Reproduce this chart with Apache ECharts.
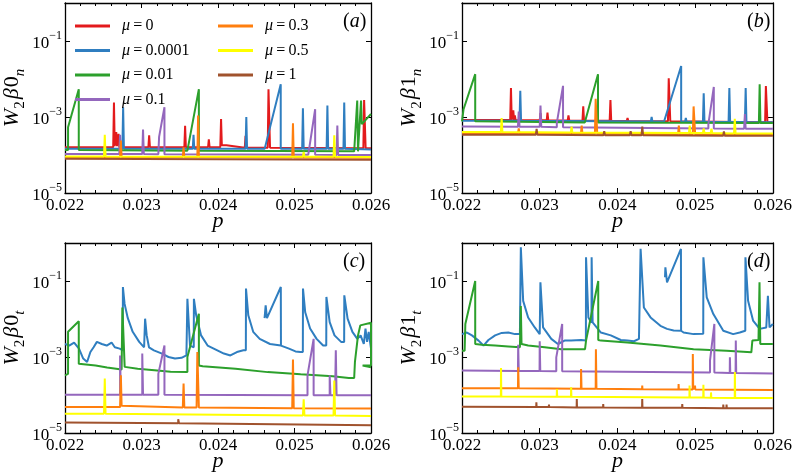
<!DOCTYPE html>
<html><head><meta charset="utf-8">
<script src="https://cdn.jsdelivr.net/npm/echarts@6/dist/echarts.min.js"></script>
<style>html,body{margin:0;padding:0;background:#fff}#c{width:795px;height:474px}</style>
</head><body><div id="c"></div>
<script>
const MU_NAMES = ['0', '0.0001', '0.01', '0.1', '0.3', '0.5', '1'];
const COLORS = ['#e31a1c', '#2f7ec0', '#2ca02c', '#9467bd', '#ff7f0e', '#ffff00', '#a0522d'];
const P_RANGE = [0.022, 0.026];
const P_STEP = 0.001;
const W_RANGE = [1e-5, 1];
const Y_LABEL_EXPONENTS = [-5, -3, -1];
const PANEL_TAGS = ['a', 'b', 'c', 'd'];
const PANEL_YNAMES = [['0', 'n'], ['1', 'n'], ['0', 't'], ['1', 't']];

// ---------- panel (a): W2 beta0_n ----------
const A0 = [[0.022,1.6e-4],[0.02263,1.6e-4],[0.02264,2.4e-3],[0.02265,1.7e-4],[0.02267,4.0e-4],[0.02268,1.7e-4],[0.0227,3.6e-4],[0.02271,1.6e-4],
 [0.02309,1.6e-4],[0.0231,3.3e-4],[0.02311,1.6e-4],[0.02356,1.6e-4],[0.02357,5.9e-4],[0.02358,1.6e-4],
 [0.02387,1.6e-4],[0.02388,2.6e-4],[0.02389,1.6e-4],[0.02403,1.6e-4],[0.02404,8.9e-4],[0.02405,1.8e-4],[0.02411,1.8e-4],[0.02412,1.6e-4],
 [0.02435,1.55e-4],[0.02436,3.2e-4],[0.02437,1.55e-4],[0.02465,1.55e-4],[0.02466,5.4e-3],[0.02468,1.55e-4],
 [0.0259,1.5e-4],[0.02591,2.8e-3],[0.02593,1.5e-4],[0.026,1.5e-4]];
const A1 = [[0.022,1.45e-4],[0.02275,1.45e-4],[0.02276,1.8e-3],[0.02277,1.45e-4],[0.02367,1.45e-4],[0.02368,3.4e-4],[0.02369,1.45e-4],
 [0.02436,1.45e-4],[0.02437,1.0e-3],[0.02438,1.45e-4],[0.02461,1.45e-4],[0.02482,7.3e-3],[0.02482,1.45e-4],
 [0.0251,1.45e-4],[0.02511,1.7e-3],[0.02512,1.45e-4],[0.02542,1.45e-4],[0.02543,2.0e-3],[0.02544,1.45e-4],
 [0.02564,1.45e-4],[0.02565,2.4e-3],[0.02566,1.45e-4],[0.026,1.4e-4]];
const A2 = [[0.022,1.35e-4],[0.02204,1.35e-4],[0.02204,5.4e-4],[0.02218,5.4e-3],[0.02218,1.35e-4],
 [0.0236,1.3e-4],[0.02375,5.4e-3],[0.02375,1.3e-4],
 [0.02578,1.25e-4],[0.02582,2.7e-3],[0.02583,1.25e-4],[0.02585,6.0e-4],[0.02587,2.7e-3],[0.02588,6.5e-4],[0.026,1.2e-3]];
const A3 = [[0.022,1.07e-4],[0.02271,1.07e-4],[0.02272,3.4e-4],[0.02273,1.07e-4],[0.02301,1.07e-4],[0.02302,4.7e-4],[0.02303,1.07e-4],
 [0.02322,1.05e-4],[0.02323,3.0e-4],[0.0233,1.8e-3],[0.0233,1.05e-4],
 [0.02518,1.02e-4],[0.02527,1.6e-3],[0.02527,1.02e-4],[0.02555,1.0e-4],[0.02556,6.0e-4],[0.02557,1.0e-4],[0.026,1.0e-4]];
const A4 = [[0.022,8.8e-5],[0.02272,8.8e-5],[0.02273,2.4e-4],[0.02274,8.8e-5],[0.02354,8.8e-5],[0.02355,1.6e-4],[0.02356,8.8e-5],
 [0.02373,8.8e-5],[0.02374,1.1e-3],[0.02375,8.8e-5],[0.02497,8.6e-5],[0.02498,6.8e-4],[0.02499,8.6e-5],[0.026,8.5e-5]];
const A5 = [[0.022,9.2e-5],[0.02251,9.2e-5],[0.02252,3.4e-4],[0.02253,9.2e-5],[0.02511,9.0e-5],[0.02512,1.2e-4],[0.02513,9.0e-5],
 [0.02551,9.0e-5],[0.02552,3.3e-4],[0.02553,9.0e-5],[0.026,8.9e-5]];
const A6 = [[0.022,8.0e-5],[0.026,7.5e-5]];

// ---------- panel (b): W2 beta1_n ----------
const B0 = [[0.022,8.4e-4],[0.02262,8.3e-4],[0.02263,5.8e-3],[0.02264,8.3e-4],[0.02266,1.5e-3],[0.02267,8.3e-4],[0.02268,1.1e-3],[0.02269,8.3e-4],
 [0.023,8.2e-4],[0.02301,1.26e-3],[0.02302,8.2e-4],[0.02309,8.2e-4],[0.0231,1.3e-3],[0.02311,8.2e-4],
 [0.02336,8.1e-4],[0.02337,1.1e-3],[0.02338,8.1e-4],[0.02355,8.0e-4],[0.02356,1.9e-3],[0.02357,8.0e-4],
 [0.0239,8.0e-4],[0.02391,2.8e-3],[0.02392,8.0e-4],[0.02412,7.9e-4],[0.02413,9.4e-4],[0.02414,7.9e-4],
 [0.02465,7.7e-4],[0.02466,1.05e-2],[0.02468,7.7e-4],[0.0259,7.3e-4],[0.02591,6.5e-3],[0.02593,7.3e-4],[0.026,7.3e-4]];
const B1 = [[0.022,8.0e-4],[0.02274,8.0e-4],[0.02275,4.9e-3],[0.02276,8.0e-4],[0.02443,7.6e-4],[0.02444,1.0e-3],[0.02445,7.6e-4],
 [0.0246,7.6e-4],[0.02482,2.2e-2],[0.02482,7.6e-4],[0.02487,7.5e-4],[0.02488,9.4e-4],[0.02489,7.5e-4],
 [0.0251,7.5e-4],[0.02511,4.2e-3],[0.02512,7.5e-4],[0.02543,7.4e-4],[0.02544,5.8e-3],[0.02545,7.4e-4],
 [0.02564,7.4e-4],[0.02565,5.8e-3],[0.02566,7.4e-4],[0.026,7.3e-4]];
const B2 = [[0.022,7.7e-4],[0.02202,7.7e-4],[0.02202,1.6e-3],[0.02217,1.34e-2],[0.02217,7.7e-4],
 [0.02358,7.2e-4],[0.02375,1.34e-2],[0.02375,7.2e-4],[0.02582,6.9e-4],[0.02583,7.3e-3],[0.02584,6.9e-4],[0.026,7.0e-4]];
const B3 = [[0.022,5.6e-4],[0.02272,5.5e-4],[0.02273,1.4e-3],[0.02274,5.5e-4],[0.023,5.5e-4],[0.02301,2.0e-3],[0.02302,5.5e-4],
 [0.02322,5.4e-4],[0.02322,7.0e-4],[0.0233,6.6e-3],[0.0233,5.4e-4],[0.02517,5.0e-4],[0.02517,6.5e-4],[0.02524,6.2e-3],[0.02524,5.0e-4],
 [0.02563,4.9e-4],[0.02564,1.2e-3],[0.02565,4.9e-4],[0.026,4.9e-4]];
const B4 = [[0.022,3.7e-4],[0.02272,3.7e-4],[0.02273,5.0e-4],[0.02274,3.7e-4],[0.02353,3.6e-4],[0.02354,5.9e-4],[0.02355,3.6e-4],
 [0.02371,3.6e-4],[0.02372,3.0e-3],[0.02374,3.6e-4],[0.02478,3.5e-4],[0.02479,5.9e-4],[0.0248,3.5e-4],
 [0.02497,3.5e-4],[0.02498,1.9e-3],[0.025,3.5e-4],[0.026,3.4e-4]];
const B5 = [[0.022,4.0e-4],[0.0225,4.0e-4],[0.02251,9.4e-4],[0.02252,4.0e-4],[0.0234,3.9e-4],[0.02341,5.6e-4],[0.02342,3.9e-4],
 [0.02492,3.8e-4],[0.02493,5.9e-4],[0.02494,3.8e-4],[0.0251,3.8e-4],[0.02511,5.0e-4],[0.02512,3.8e-4],
 [0.0252,3.8e-4],[0.02521,4.9e-4],[0.02522,3.8e-4],[0.0255,3.7e-4],[0.02551,8.9e-4],[0.02552,3.7e-4],[0.026,3.7e-4]];
const B6 = [[0.022,3.4e-4],[0.02295,3.4e-4],[0.02296,4.9e-4],[0.02297,3.4e-4],[0.02382,3.3e-4],[0.02383,4.2e-4],[0.02384,3.3e-4],
 [0.02416,3.3e-4],[0.02417,4.2e-4],[0.02418,3.3e-4],[0.02431,3.3e-4],[0.02432,5.6e-4],[0.02433,3.3e-4],
 [0.02536,3.2e-4],[0.02537,4.2e-4],[0.02538,3.2e-4],[0.026,3.2e-4]];

// ---------- panel (c): W2 beta0_t ----------
const C0 = [];
const C1 = [[0.022,2.2e-3],[0.022055,2.0e-3],[0.022119,2.4e-3],[0.022183,1.66e-3],[0.022238,9.1e-4],[0.022289,7.4e-4],[0.022332,1.35e-3],
 [0.022374,1.8e-3],[0.022417,2.5e-3],[0.022481,2.2e-3],[0.022545,2.0e-3],[0.022609,2.4e-3],[0.022651,1.8e-3],[0.022715,1.66e-3],
 [0.022755,1.5e-3],[0.022757,6.95e-2],[0.022779,2.5e-2],[0.022821,1.05e-2],[0.022885,4.6e-3],[0.02297,2.5e-3],[0.023034,1.8e-3],
 [0.023047,1.02e-2],[0.023068,3.7e-3],[0.023098,1.8e-3],[0.023162,1.5e-3],[0.023268,1.23e-3],[0.023353,1.0e-3],[0.023438,9.1e-4],
 [0.023523,9.5e-4],[0.023587,1.1e-3],[0.023598,1.1e-3],[0.0236,3.4e-2],[0.023634,2.0e-3],[0.023683,1.8e-3],[0.023685,3.4e-2],
 [0.023715,1.25e-2],[0.023779,3.7e-3],[0.023864,2.0e-3],[0.023991,1.5e-3],[0.024077,1.23e-3],[0.024162,1.1e-3],[0.024247,1.35e-3],
 [0.024332,1.5e-3],[0.024364,1.5e-3],[0.024366,6.3e-2],[0.024396,1.25e-2],[0.02446,4.6e-3],[0.024545,3.0e-3],[0.02468,2.2e-3],
 [0.024821,2.0e-3],[0.02461,'-'],[0.024609,1.05e-2],[0.024623,2.3e-2],[0.02464,1.05e-2],[0.024821,6.95e-2],[0.024823,2.0e-3],
 [0.024928,1.66e-3],[0.025013,1.4e-3],[0.025077,1.35e-3],[0.025109,1.35e-3],[0.025111,6.3e-2],[0.02514,1.5e-2],[0.025204,5.6e-3],
 [0.025289,3.0e-3],[0.025374,2.0e-3],[0.025415,2.0e-3],[0.025417,3.8e-2],[0.02546,8.3e-3],[0.025523,3.7e-3],[0.025609,2.5e-3],
 [0.025649,2.5e-3],[0.025651,4.2e-2],[0.025694,1.02e-2],[0.025757,4.6e-3],[0.025821,3.0e-3],[0.025864,3.7e-3],[0.025906,2.2e-3],
 [0.025928,5.6e-3],[0.025949,2.5e-3],[0.02597,4.6e-3],[0.026,1.66e-3]];
const C2 = [[0.022,3.3e-4],[0.02204,3.6e-4],[0.02204,4.6e-3],[0.02218,8.7e-3],[0.02218,6.6e-4],[0.0224,6.0e-4],[0.02255,5.3e-4],
 [0.02274,4.7e-4],[0.02275,2.0e-2],[0.02278,5.5e-4],[0.02295,4.9e-4],[0.02317,4.5e-4],[0.02338,4.1e-4],[0.0236,4.0e-4],
 [0.0236,1.0e-3],[0.02375,1.38e-2],[0.02375,6.0e-4],[0.0238,5.7e-4],[0.02423,4.9e-4],[0.02465,4.0e-4],[0.02508,3.5e-4],
 [0.0255,3.1e-4],[0.02571,2.8e-4],[0.02578,2.8e-4],[0.02579,7.4e-4],[0.02583,3.7e-3],[0.02586,6.8e-3],[0.02588,7.6e-3],
 [0.026,8.0e-3],[0.026,6.0e-4],[0.02589,6.0e-4],[0.02588,6.6e-4],[0.02588,5.5e-4],[0.026,5.4e-4]];
const C3 = [[0.022,1.02e-4],[0.02272,1.02e-4],[0.02272,1.1e-3],[0.02273,1.02e-4],[0.02301,1.02e-4],[0.02301,1.23e-3],[0.02302,1.02e-4],
 [0.02322,1.01e-4],[0.02322,3.6e-4],[0.0233,2.0e-3],[0.0233,1.01e-4],[0.02517,9.9e-5],[0.02517,3.3e-4],[0.02525,3.0e-3],[0.02525,9.9e-5],
 [0.02546,9.9e-5],[0.02546,3.3e-4],[0.02547,9.9e-5],[0.02553,9.8e-5],[0.02554,1.5e-3],[0.02555,9.8e-5],[0.026,9.8e-5]];
const C4 = [[0.022,4.8e-5],[0.02272,4.8e-5],[0.02273,3.3e-4],[0.02274,5.2e-5],[0.02275,4.8e-5],[0.02354,4.7e-5],[0.02355,2.0e-4],[0.02356,4.7e-5],
 [0.02372,4.7e-5],[0.02373,1.35e-3],[0.02375,4.7e-5],[0.02497,4.5e-5],[0.02498,8.6e-4],[0.02499,4.5e-5],[0.026,4.4e-5]];
const C5 = [[0.022,3.2e-5],[0.02251,3.2e-5],[0.02252,2.7e-4],[0.02253,3.2e-5],[0.02511,2.9e-5],[0.02512,7.7e-5],[0.02513,2.9e-5],
 [0.02551,2.9e-5],[0.02552,2.4e-4],[0.02553,2.9e-5],[0.026,2.8e-5]];
const C6 = [[0.022,1.9e-5],[0.02348,1.8e-5],[0.02348,2.3e-5],[0.02349,1.8e-5],[0.026,1.6e-5]];

// ---------- panel (d): W2 beta1_t ----------
const D0 = [];
const D1 = [[0.022,4.0e-3],[0.022064,4.4e-3],[0.022128,3.7e-3],[0.022213,2.7e-3],[0.022277,2.0e-3],[0.02234,2.8e-3],[0.022426,3.7e-3],
 [0.022511,4.3e-3],[0.022596,4.4e-3],[0.022681,4.0e-3],[0.022745,4.0e-3],[0.022757,0.77],[0.022787,3.0e-2],[0.022851,1.1e-2],
 [0.022936,6.0e-3],[0.023,4.0e-3],[0.023009,9.2e-2],[0.023043,6.0e-3],[0.023149,3.0e-3],[0.023234,2.2e-3],[0.023319,2.7e-3],
 [0.023404,2.7e-3],[0.023532,2.8e-3],[0.023594,2.7e-3],[0.023596,0.42],[0.023626,1.1e-2],[0.023666,8.0e-3],[0.023668,0.42],
 [0.023681,8.1e-3],[0.023787,4.4e-3],[0.023915,3.7e-3],[0.024043,2.8e-3],[0.024128,2.7e-3],[0.024213,2.6e-3],[0.024277,3.0e-3],
 [0.024296,3.0e-3],[0.024298,0.70],[0.02434,2.0e-2],[0.024426,1.1e-2],[0.024553,6.6e-3],[0.024638,5.5e-3],[0.024723,5.0e-3],
 [0.024819,4.9e-3],[0.02462,'-'],[0.024612,0.125],[0.024617,0.23],[0.024638,9.2e-2],[0.024817,0.70],[0.024819,4.9e-3],
 [0.024851,4.4e-3],[0.024979,4.0e-3],[0.025104,4.1e-3],[0.025106,0.42],[0.025149,3.7e-2],[0.025234,1.35e-2],[0.025362,4.9e-3],
 [0.025489,4.0e-3],[0.025574,4.4e-3],[0.025645,4.9e-3],[0.025647,0.42],[0.025681,3.0e-2],[0.025745,9.1e-3],[0.02583,5.5e-3],
 [0.025915,6.0e-3],[0.025936,4.1e-2],[0.025957,6.0e-3],[0.026,7.4e-3]];
const D2 = [[0.022,1.47e-3],[0.022034,1.47e-3],[0.022043,7.4e-3],[0.02217,0.10],[0.02217,2.2e-3],[0.022255,2.1e-3],[0.022426,2.0e-3],
 [0.022596,1.9e-3],[0.022745,1.8e-3],[0.022757,2.2e-2],[0.022766,2.2e-3],[0.022851,2.0e-3],[0.023064,1.8e-3],[0.023277,1.6e-3],
 [0.023532,1.6e-3],[0.023583,1.6e-3],[0.023596,2.7e-3],[0.023753,0.10],[0.023753,2.8e-3],[0.023787,2.7e-3],[0.024128,2.4e-3],
 [0.024553,2.0e-3],[0.024979,1.6e-3],[0.025404,1.47e-3],[0.025723,1.33e-3],[0.025736,2.7e-3],[0.025815,2.8e-3],[0.025828,0.092],
 [0.025838,2.2e-3],[0.026,2.2e-3]];
const D3 = [[0.022,4.4e-4],[0.02272,4.3e-4],[0.022723,2.1e-3],[0.02273,4.3e-4],[0.022998,4.3e-4],[0.023,2.6e-3],[0.023007,4.3e-4],
 [0.023213,4.2e-4],[0.023213,9.8e-4],[0.023289,7.4e-3],[0.023289,4.2e-4],[0.025191,3.9e-4],[0.025191,8.0e-4],[0.025247,7.4e-3],
 [0.025247,3.9e-4],[0.025445,3.8e-4],[0.025447,9.8e-4],[0.025452,3.8e-4],[0.02552,3.8e-4],[0.025523,2.7e-3],[0.025528,3.8e-4],[0.026,3.7e-4]];
const D4 = [[0.022,1.5e-4],[0.02272,1.5e-4],[0.022723,5.4e-4],[0.02273,1.5e-4],[0.02353,1.45e-4],[0.023532,4.8e-4],[0.023538,1.45e-4],
 [0.02372,1.45e-4],[0.023723,1.6e-3],[0.02373,1.45e-4],[0.024317,1.42e-4],[0.024319,1.77e-4],[0.024322,1.42e-4],
 [0.024785,1.4e-4],[0.024787,1.95e-4],[0.02479,1.4e-4],[0.024968,1.4e-4],[0.02497,1.2e-3],[0.024975,1.4e-4],
 [0.024995,1.4e-4],[0.024998,1.77e-4],[0.025002,1.4e-4],[0.026,1.35e-4]];
const D5 = [[0.022,9.2e-5],[0.0225,9.2e-5],[0.022502,5.1e-4],[0.022506,9.2e-5],[0.023219,9.0e-5],[0.023221,1.44e-4],[0.023225,9.0e-5],
 [0.023402,9.0e-5],[0.023404,1.6e-4],[0.023408,9.0e-5],[0.024926,8.6e-5],[0.024928,1.77e-4],[0.024932,8.6e-5],
 [0.025104,8.6e-5],[0.025106,1.86e-4],[0.02511,8.6e-5],[0.025202,8.5e-5],[0.025204,1.17e-4],[0.025208,8.5e-5],
 [0.025509,8.4e-5],[0.025511,4.0e-4],[0.025515,8.4e-5],[0.026,8.3e-5]];
const D6 = [[0.022,4.9e-5],[0.022955,4.8e-5],[0.022957,6.4e-5],[0.02296,4.8e-5],[0.023117,4.8e-5],[0.023119,5.6e-5],[0.023122,4.8e-5],
 [0.023475,4.7e-5],[0.023477,7.8e-5],[0.02348,4.7e-5],[0.023815,4.7e-5],[0.023817,5.8e-5],[0.02382,4.7e-5],
 [0.024317,4.6e-5],[0.024319,7.8e-5],[0.024322,4.6e-5],[0.024832,4.6e-5],[0.024834,5.8e-5],[0.024837,4.6e-5],
 [0.02536,4.5e-5],[0.025362,5.6e-5],[0.025365,4.5e-5],[0.025402,4.5e-5],[0.025404,5.6e-5],[0.025407,4.5e-5],[0.026,4.5e-5]];

const PANEL_DATA = [[A0,A1,A2,A3,A4,A5,A6],[B0,B1,B2,B3,B4,B5,B6],[C0,C1,C2,C3,C4,C5,C6],[D0,D1,D2,D3,D4,D5,D6]];

const FONT = 'Liberation Serif';
const GRIDS = [
  {left: 57, top: 3, width: 314, height: 190},
  {left: 462, top: 3, width: 313, height: 190},
  {left: 57, top: 243, width: 314, height: 190},
  {left: 462, top: 243, width: 313, height: 190}
];

const axisLineStyle = {show: true, onZero: false, lineStyle: {color: '#000', width: 1.3}};
const xAxes = [], yAxes = [], series = [], titles = [];
GRIDS.forEach((g, i) => {
  const xBase = {
    type: 'value', gridIndex: i, min: P_RANGE[0], max: P_RANGE[1], interval: P_STEP,
    axisLine: axisLineStyle,
    axisTick: {show: true, inside: true, length: 5, lineStyle: {color: '#000', width: 1}},
    minorTick: {show: true, splitNumber: 5, length: 3, lineStyle: {color: '#000', width: 1}},
    splitLine: {show: false}, minorSplitLine: {show: false}
  };
  xAxes.push(Object.assign({}, xBase, {
    position: 'bottom',
    axisLabel: {show: true, color: '#000', fontFamily: FONT, fontSize: 17, margin: 4,
      formatter: v => v.toFixed(3)},
    name: 'p', nameLocation: 'middle', nameGap: 17, nameMoveOverlap: false,
    nameTextStyle: {color: '#000', fontFamily: FONT, fontSize: 22, fontStyle: 'italic'}
  }));
  xAxes.push(Object.assign({}, xBase, {position: 'top', axisLabel: {show: false}}));
  const yBase = {
    type: 'log', logBase: 10, gridIndex: i, min: W_RANGE[0], max: W_RANGE[1], interval: 2,
    axisLine: axisLineStyle,
    axisTick: {show: true, inside: true, length: 5, lineStyle: {color: '#000', width: 1}},
    minorTick: {show: false}, splitLine: {show: false}
  };
  const yn = PANEL_YNAMES[i];
  yAxes.push(Object.assign({}, yBase, {
    position: 'left',
    axisLabel: {show: true, color: '#000', margin: 3,
      formatter: v => {
        const e = Math.round(Math.log10(v));
        return Y_LABEL_EXPONENTS.indexOf(e) >= 0 ? '{b|10}{s|\u2212' + (-e) + '}' : '';
      },
      rich: {
        b: {fontFamily: FONT, fontSize: 17, color: '#000', padding: [6, 0, 0, 0]},
        s: {fontFamily: FONT, fontSize: 12, color: '#000', verticalAlign: 'top'}
      }
    },
    name: '{w|W}{s|2}{g|\u03b2}{r|' + yn[0] + '}{t|' + yn[1] + '}',
    nameLocation: 'middle', nameRotate: 90, nameGap: 37,
    nameTextStyle: {color: '#000', fontFamily: FONT, fontSize: 22,
      rich: {
        w: {fontFamily: FONT, fontSize: 22, fontStyle: 'italic', color: '#000', padding: [0, 0, 5, 0]},
        g: {fontFamily: FONT, fontSize: 22, fontStyle: 'italic', color: '#000', padding: [0, 1, 5, 2]},
        r: {fontFamily: FONT, fontSize: 22, color: '#000', padding: [0, 0, 5, 0]},
        s: {fontFamily: FONT, fontSize: 15, color: '#000', verticalAlign: 'bottom'},
        t: {fontFamily: FONT, fontSize: 15, fontStyle: 'italic', color: '#000', verticalAlign: 'bottom'}
      }}
  }));
  yAxes.push(Object.assign({}, yBase, {position: 'right', axisLabel: {show: false}}));

  PANEL_DATA[i].forEach((d, k) => {
    series.push({
      type: 'line', name: MU_NAMES[k], xAxisIndex: 2 * i, yAxisIndex: 2 * i,
      data: d, showSymbol: false, symbol: 'none', clip: true,
      lineStyle: {color: COLORS[k], width: 2}, itemStyle: {color: COLORS[k]},
      emphasis: {disabled: true}, animation: false, connectNulls: false
    });
  });

  titles.push({
    text: '({i|' + PANEL_TAGS[i] + '})',
    left: g.left + g.width - 33, top: g.top + 4,
    textStyle: {color: '#000', fontFamily: FONT, fontSize: 20, fontWeight: 'normal',
      rich: {i: {fontFamily: FONT, fontSize: 20, fontStyle: 'italic', color: '#000'}}}
  });
});

const legendText = {
  color: '#000', fontFamily: FONT, fontSize: 16, padding: [0, 0, 0, 7],
  rich: {
    i: {fontFamily: FONT, fontSize: 16, fontStyle: 'italic', color: '#000'},
    t: {fontFamily: FONT, fontSize: 16, color: '#000'}
  }
};
const legendFmt = n => '{i|\u03bc}{t|\u2009=\u2009' + n + '}';
const legendBase = {
  orient: 'vertical', top: 13, itemWidth: 35, itemHeight: 3, itemGap: 8.5,
  icon: 'rect', textStyle: legendText, formatter: legendFmt, selectedMode: false
};

const option = {
  backgroundColor: '#fff',
  animation: false,
  grid: GRIDS.map(g => Object.assign({containLabel: false}, g)),
  xAxis: xAxes,
  yAxis: yAxes,
  title: titles,
  legend: [
    Object.assign({}, legendBase, {left: 70, data: MU_NAMES.slice(0, 4)}),
    Object.assign({}, legendBase, {left: 213, data: MU_NAMES.slice(4)})
  ],
  series: series
};

const chart = echarts.init(document.getElementById('c'), null, {renderer: 'canvas'});
chart.setOption(option);
</script>
</body></html>
